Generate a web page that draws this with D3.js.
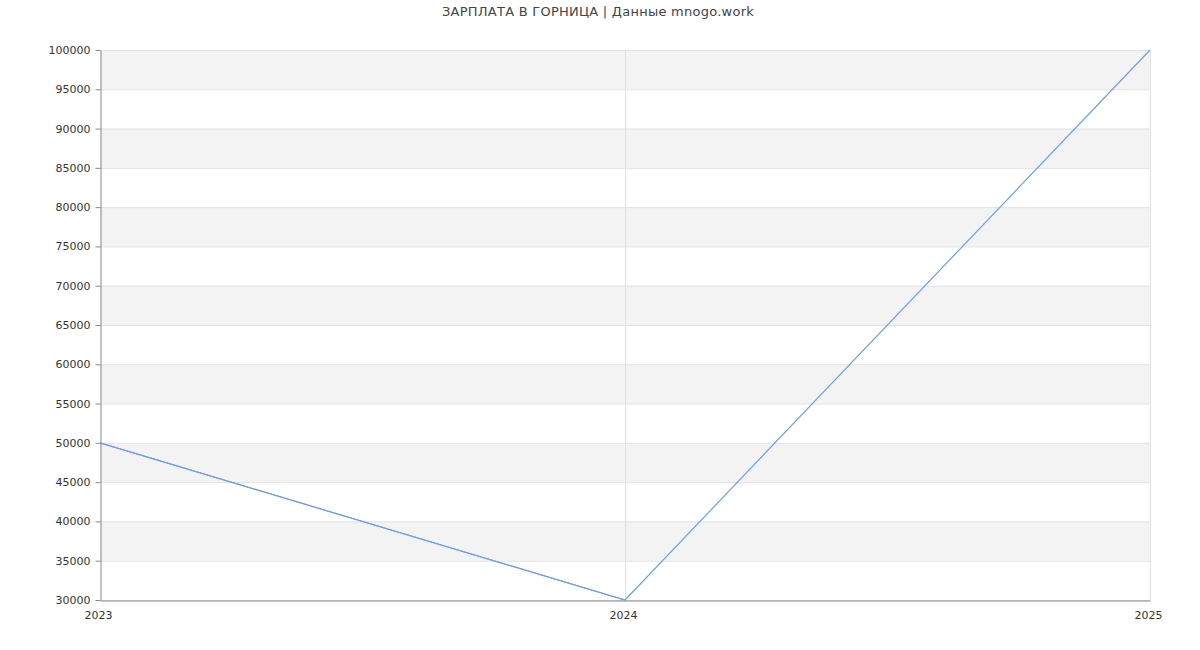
<!DOCTYPE html>
<html><head><meta charset="utf-8">
<script src="https://cdn.jsdelivr.net/npm/d3@7"></script>
<style>body{margin:0;background:#fff;font-family:"DejaVu Sans",sans-serif;}</style>
</head><body><svg id="c" width="1200" height="650"></svg>
<script>
const title = "ЗАРПЛАТА В ГОРНИЦА | Данные mnogo.work";
const years = [2023, 2024, 2025];
const salaries = [50000, 30000, 100000];
const yTicks = [30000,35000,40000,45000,50000,55000,60000,65000,70000,75000,80000,85000,90000,95000,100000];

const svg = d3.select("#c");
const m = {l:100, r:1150, t:50, b:600};
const x = d3.scaleLinear().domain([2023,2025]).range([m.l, m.r]);
const y = d3.scaleLinear().domain([30000,100000]).range([m.b, m.t]);

for (let i = 0; i < yTicks.length - 1; i++) {
  const lo = yTicks[i], hi = yTicks[i+1];
  if (i % 2 === 1) {
    svg.append("rect").attr("x", m.l).attr("y", y(hi)).attr("width", m.r - m.l)
      .attr("height", y(lo) - y(hi)).attr("fill", "#f3f3f3");
  }
}
svg.append("g").selectAll("line").data(yTicks).join("line")
  .attr("x1", m.l).attr("x2", m.r).attr("y1", d => y(d)+0.5).attr("y2", d => y(d)+0.5)
  .attr("stroke", "#e2e2e2");
svg.append("g").selectAll("line").data(years.slice(1)).join("line")
  .attr("x1", d => x(d)+0.5).attr("x2", d => x(d)+0.5).attr("y1", m.t).attr("y2", m.b)
  .attr("stroke", "#e2e2e2");

const ya = svg.append("g").attr("transform", `translate(${m.l+0.5},0)`)
  .call(d3.axisLeft(y).tickValues(yTicks).tickSize(5).tickSizeOuter(0).tickFormat(d3.format("d")));
ya.select(".domain").attr("stroke", "#888");
ya.selectAll(".tick line").attr("stroke", "#888");
ya.selectAll("text").attr("fill", "#333").style("font-size", "11px").style("font-family", "DejaVu Sans").attr("x", -10);

const xa = svg.append("g").attr("transform", `translate(0,${m.b+0.5})`)
  .call(d3.axisBottom(x).tickValues(years).tickSize(0).tickSizeOuter(0).tickFormat(d3.format("d")));
xa.select(".domain").attr("stroke", "#888");
xa.selectAll("text").attr("fill", "#333").style("font-size", "11px").style("font-family", "DejaVu Sans").attr("y", 11).attr("dx", -2);

const pts = years.map((d,i) => [d, salaries[i]]);
svg.append("path").datum(pts)
  .attr("d", d3.line().x(d => x(d[0])).y(d => y(d[1])))
  .attr("fill", "none").attr("stroke", "#6f9cf0").attr("stroke-width", 1.2);
svg.append("path").datum(pts.slice(0,2))
  .attr("d", d3.line().x(d => x(d[0])).y(d => y(d[1])))
  .attr("fill", "none").attr("stroke", "#6f9cf0").attr("stroke-width", 1);

svg.append("text").attr("x", 598).attr("y", 16).attr("text-anchor", "middle")
  .attr("fill", "#444").style("font-size", "13px").style("letter-spacing", "0.25px").style("font-family", "DejaVu Sans").text(title);
</script></body></html>
